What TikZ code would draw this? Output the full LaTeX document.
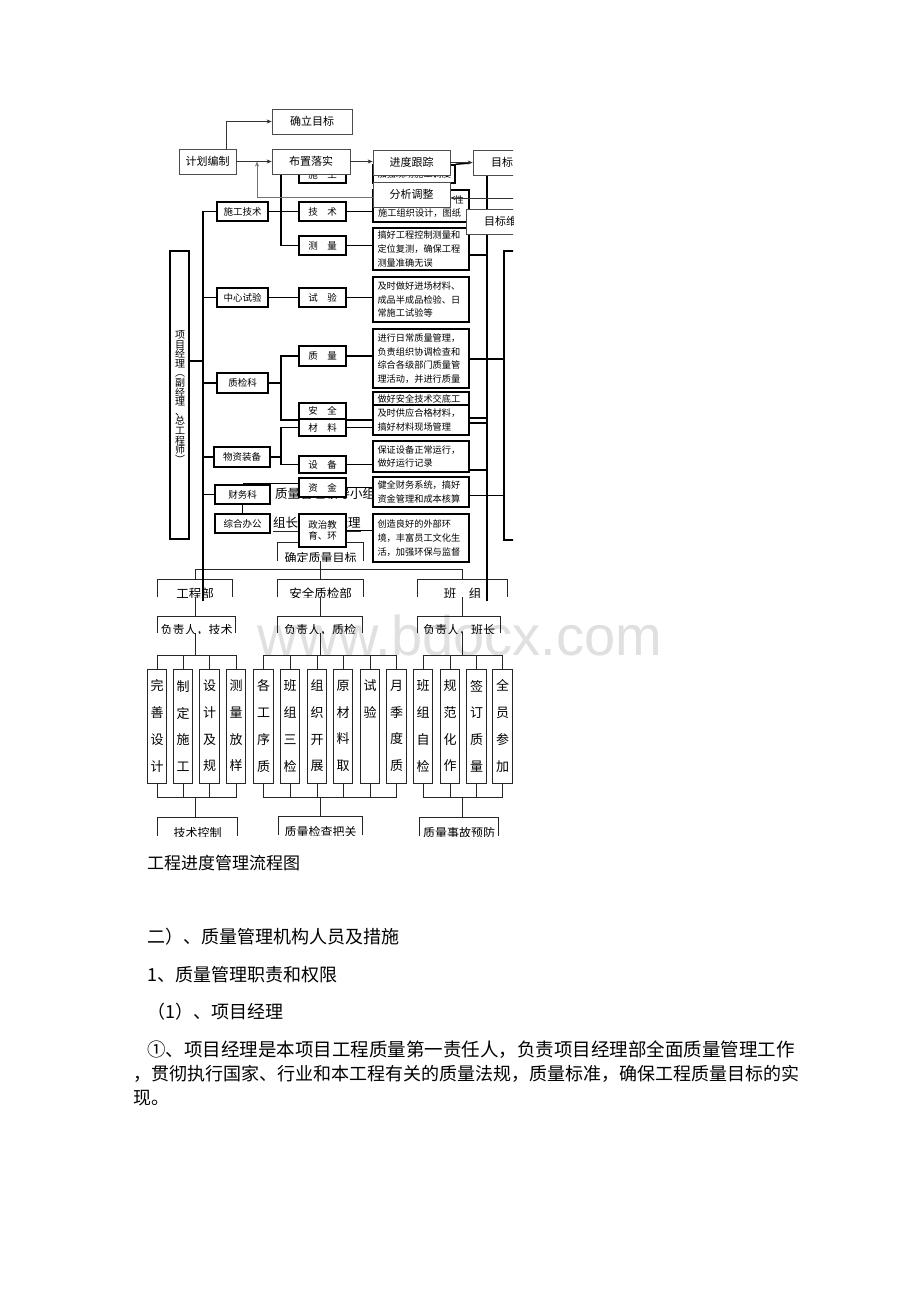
\documentclass[tikz,border=0pt]{standalone}
\usepackage{fontspec}
\setmainfont{Noto Sans CJK SC}
\newfontfamily\wmfont{Liberation Sans}
\usetikzlibrary{arrows.meta,calc}
\newcommand\ob[7][obox]{\node[#1,minimum width={(#5-#3)*1pt},minimum height={(#6-#4)*1pt}] (#2) at ({(#3+#5)/2},{(#4+#6)/2}) {#7};}
\newcommand\db[6]{\node[dbox,minimum width={(#4-#2)*1pt},minimum height={(#5-#3)*1pt},text width={(#4-#2-9)*1pt}] (#1) at ({(#2+#4)/2},{(#3+#5)/2}) {#6};}
\newcommand\qbox[7][qt]{%
  \node[qb,minimum width={(#5-#3)*1pt},minimum height={(#6-#4)*1pt}] (#2) at ({(#3+#5)/2},{(#4+#6)/2}) {};
  \begin{scope}\clip (#2.south west) rectangle (#2.north east);
    \node[#1] (#2t) at ([yshift=3.5pt]#2.south) {#7};\end{scope}
  \draw[ql] (#2.south west) |- (#2.north east) -- (#2.south east);}
\newcommand\cb[3]{\node[cbox] (#1) at (#2,726) {#3};}
\begin{document}
\begin{tikzpicture}[x=1pt,y=-1pt,
  obox/.style={draw,line width=1.5pt,fill=white,inner sep=0pt,align=center,font=\fontsize{9.5}{11}\selectfont},
  dbox/.style={draw,line width=1.5pt,fill=white,inner sep=0pt,align=left,font=\fontsize{9.2}{13.6}\selectfont},
  dt/.style={inner sep=0pt,font=\fontsize{9.2}{13.6}\selectfont},
  fbox/.style={draw=black!70,line width=0.7pt,fill=white,inner sep=0pt,font=\fontsize{11}{12}\selectfont},
  ft/.style={inner sep=0pt,font=\fontsize{11}{12}\selectfont},
  qb/.style={inner sep=0pt},
  qt/.style={inner sep=0pt,font=\fontsize{12.5}{13}\selectfont},
  ql/.style={line width=0.8pt,black!85},
  ol/.style={line width=1.5pt},
  cbox/.style={draw=black!85,line width=0.8pt,inner sep=0pt,minimum width=19.5pt,minimum height=114pt,align=center,font=\fontsize{13}{26.7}\selectfont},
  ar/.style={-{Stealth[length=5pt,width=4pt]},line width=0.6pt,black!80},
  body/.style={anchor=west,inner sep=0pt,font=\fontsize{18}{18}\selectfont}]
\fill[white] (0,0) rectangle (920,1302);
\useasboundingbox (0,0) rectangle (920,1302);

% watermark
\node[text=black!12,font=\wmfont\fontsize{56}{56}\selectfont] (wm) at (460,635) {www.bdocx.com};

\begin{scope}
\clip (0,0) rectangle (513,850);

% ---------- quality management chart (bottom layer)
\node[anchor=west,inner sep=0pt,font=\fontsize{12.5}{13}\selectfont] (qtitle) at (243,494) {（1）质量管理领导小组};
\node[anchor=west,inner sep=0pt,font=\fontsize{12.5}{13}\selectfont] (zuzhang) at (273,523) {组长：项目经理};
\draw[ql] ([yshift=-2pt]zuzhang.south west) -- ([yshift=-2pt]zuzhang.south east);

\coordinate (ytop) at (0,569);
\coordinate (yb1) at (0,655);
\coordinate (yb2) at (0,797);

\qbox[{inner sep=0pt,font=\fontsize{12}{13}\selectfont}]{qmb}{278}{543}{363}{561}{确定质量目标}
\qbox{gcb}{158}{580}{232}{597}{工程部}
\qbox{aqzj}{278}{580}{363}{597}{安全质检部}
\qbox{bz}{418}{580}{507}{597}{班\quad 组}
\qbox[{inner sep=0pt,font=\fontsize{12}{13}\selectfont}]{f1}{158}{617}{235}{633}{负责人，技术}
\qbox[{inner sep=0pt,font=\fontsize{12}{13}\selectfont}]{f2}{278}{617}{362}{633}{负责人，质检}
\qbox[{inner sep=0pt,font=\fontsize{12}{13}\selectfont}]{f3}{418}{617}{500}{633}{负责人，班长}
\qbox[{inner sep=0pt,font=\fontsize{12}{13}\selectfont}]{b1}{158}{818}{237}{836}{技术控制}
\qbox[{inner sep=0pt,font=\fontsize{12}{13}\selectfont}]{b2}{279}{817}{362}{835}{质量检查把关}
\qbox[{inner sep=0pt,font=\fontsize{12}{13}\selectfont}]{b3}{420}{818}{498}{836}{质量事故预防}

\cb{c11}{157}{完\\善\\设\\计}
\cb{c12}{183}{制\\定\\施\\工}
\cb{c13}{209.5}{设\\计\\及\\规}
\cb{c14}{236}{测\\量\\放\\样}
\cb{c21}{263.5}{各\\工\\序\\质}
\cb{c22}{290}{班\\组\\三\\检}
\cb{c23}{317}{组\\织\\开\\展}
\cb{c24}{343}{原\\材\\料\\取}
\cb{c25}{370}{试\\验\\\phantom{试}\\\phantom{验}}
\cb{c26}{396.5}{月\\季\\度\\质}
\cb{c31}{423}{班\\组\\自\\检}
\cb{c32}{450}{规\\范\\化\\作}
\cb{c33}{476.5}{签\\订\\质\\量}
\cb{c34}{502.5}{全\\员\\参\\加}

\draw[ql] (qmb.south) -- (qmb.south |- ytop);
\draw[ql] (gcb.north) -- (gcb.north |- ytop) -- (bz.north |- ytop) -- (bz.north);
\draw[ql] (aqzj.north) -- (aqzj.north |- ytop);
\draw[ql] (gcb.south) -- (gcb.south |- f1.north);
\draw[ql] (aqzj.south) -- (aqzj.south |- f2.north);
\draw[ql] (bz.south) -- (bz.south |- f3.north);
\draw[ql] (gcb.south |- f1.south) -- (gcb.south |- yb1);
\draw[ql] (aqzj.south |- f2.south) -- (aqzj.south |- yb1);
\draw[ql] (bz.south |- f3.south) -- (bz.south |- yb1);
% top bars
\draw[ql] (c11.north) -- (c11.north |- yb1) -- (c14.north |- yb1) -- (c14.north);
\draw[ql] (c12.north) -- (c12.north |- yb1);
\draw[ql] (c13.north) -- (c13.north |- yb1);
\draw[ql] (c21.north) -- (c21.north |- yb1) -- (c26.north |- yb1) -- (c26.north);
\foreach \c in {c22,c23,c24,c25} \draw[ql] (\c.north) -- (\c.north |- yb1);
\draw[ql] (c31.north) -- (c31.north |- yb1) -- (c34.north |- yb1) -- (c34.north);
\foreach \c in {c32,c33} \draw[ql] (\c.north) -- (\c.north |- yb1);
% bottom bars
\draw[ql] (c11.south) -- (c11.south |- yb2) -- (c14.south |- yb2) -- (c14.south);
\draw[ql] (c12.south) -- (c12.south |- yb2);
\draw[ql] (c13.south) -- (c13.south |- yb2);
\draw[ql] (c21.south) -- (c21.south |- yb2) -- (c26.south |- yb2) -- (c26.south);
\foreach \c in {c22,c23,c24,c25} \draw[ql] (\c.south) -- (\c.south |- yb2);
\draw[ql] (c31.south) -- (c31.south |- yb2) -- (c34.south |- yb2) -- (c34.south);
\foreach \c in {c32,c33} \draw[ql] (\c.south) -- (\c.south |- yb2);
\draw[ql] (gcb.south |- yb2) -- (gcb.south |- b1.north);
\draw[ql] (aqzj.south |- yb2) -- (aqzj.south |- b2.north);
\draw[ql] (bz.south |- yb2) -- (bz.south |- b3.north);

% ---------- organisation chart (middle layer)
\coordinate (ltend) at (203,601);
\coordinate (rttop) at (487,175);
\coordinate (rtend) at (487,601);
\coordinate (v1) at (281,0);
\coordinate (pmy) at (0,361);
\coordinate (y255) at (0,255);
\coordinate (y359) at (0,359);
\coordinate (y418) at (0,418);
\coordinate (y423) at (0,423);
\coordinate (y470) at (0,470);
\coordinate (y495) at (0,495);
\coordinate (c483) at (243,483);
\coordinate (c163) at (470,163);

\ob{pm}{170}{251}{189}{539}{}
\node[inner sep=0pt,align=center,font=\fontsize{10}{9.6}\selectfont] (pmt) at (180,397) {项\\目\\经\\理\\︵\\副\\经\\理\\、\\总\\工\\程\\师\\︶};
\ob{fr}{504}{251}{560}{540}{}

\ob{sgjs}{217}{202}{268}{221}{施工技术}
\ob{zxsy}{217}{288}{268}{307}{中心试验}
\ob{zjk}{217}{373}{268}{393}{质检科}
\ob{wzzb}{214}{447}{270}{467}{物资装备}
\ob{cwk}{215}{485}{270}{504}{财务科}
\ob{zhbg}{215}{514}{270}{533}{综合办公}

\draw[ol] (sgjs.west) -| (ltend);
\foreach \n in {zxsy,zjk,wzzb,cwk} \draw[ol] (\n.west) -- (\n.west -| ltend);
\draw[ol] (pm.east |- pmy) -- (ltend |- pmy);
\draw[line width=1pt] (cwk.south) -- (zhbg.north);

\ob{sg}{299}{166}{346}{183}{\raisebox{-3pt}{施\quad 工}}
\ob{js}{299}{202}{346}{221}{技\quad 术}
\ob{cl}{299}{236}{346}{255}{测\quad 量}
\ob{sy}{299}{288}{346}{307}{试\quad 验}
\ob{zl}{299}{346}{346}{366}{质\quad 量}
\ob{aq}{299}{403}{346}{419}{安\quad 全}
\ob{clz}{299}{419}{346}{436}{材\quad 料}
\ob{sb}{299}{456}{346}{473}{设\quad 备}
\ob{zj}{299}{478}{346}{497}{资\quad 金}
\ob{zz}{299}{514}{346}{547}{政治教\\育、环}

\db{d0}{373}{165}{455}{183}{\raisebox{-3pt}{加强现场施工调度}}
\db{d1}{373}{190}{469}{222}{}
\node[dt,anchor=west] (d1a) at (378,213) {施工组织设计，图纸};
\node[dt,anchor=east] (d1b) at (464,200) {性};
\db{d2}{373}{228}{469}{270}{搞好工程控制测量和\\定位复测，确保工程\\测量准确无误}
\db{d3}{373}{277}{469}{322}{及时做好进场材料、\\成品半成品检验、日\\常施工试验等}
\db{d4}{373}{329}{469}{388}{进行日常质量管理，\\负责组织协调检查和\\综合各级部门质量管\\理活动，并进行质量}
\db{d5}{373}{392}{469}{405}{做好安全技术交底工}
\db{d6}{373}{405}{469}{435}{及时供应合格材料，\\搞好材料现场管理}
\db{d7}{373}{441}{469}{472}{保证设备正常运行，\\做好运行记录}
\db{d8}{373}{477}{469}{507}{健全财务系统，搞好\\资金管理和成本核算}
\db{d9}{373}{514}{469}{562}{创造良好的外部环\\境，丰富员工文化生\\活，加强环保与监督}

% column connections
\draw[ol] (sgjs.east) -- (js.west);
\draw[ol] (sg.west) -| (v1 |- cl.west) -- (cl.west);
\draw[ol] (zxsy.east) -- (sy.west);
\draw[ol] (zjk.east) -- (v1 |- zjk.east);
\draw[ol] (zl.west) -| (v1 |- aq.south) -- (aq.south west);
\draw[ol] (wzzb.east) -- (v1 |- wzzb.east);
\draw[ol] (clz.west) -| (v1 |- sb.west) -- (sb.west);
\draw[line width=1pt] (c483) -- (c483 -| zj.west);
\draw[ol] (js.east) -- (js.east -| d1.west);
\draw[ol] (cl.east) -- (cl.east -| d2.west);
\draw[ol] (sy.east) -- (sy.east -| d3.west);
\draw[ol] (zl.east) -- (zl.east -| d4.west);
\draw[ol] (aq.south east) -- (aq.south east -| d6.west);
\draw[ol] (clz.east) -- (clz.east -| d6.west);
\draw[ol] (sb.east) -- (sb.east -| d7.west);
\draw[ol] (zj.east) -- (zj.east -| d8.west);
\draw[ol] (zz.east) -- (zz.east -| d9.west);
% right trunk
\draw[ol] (rttop) -- (rtend);
\draw[ol] (d2.east |- y255) -- (rtend |- y255);
\draw[ol] (d4.east |- y359) -- (fr.west |- y359);
\draw[ol] (d6.east |- y418) -- (rtend |- y418);
\draw[ol] (d6.east |- y423) -- (rtend |- y423);
\draw[ol] (d7.east |- y470) -- (rtend |- y470);
\draw[line width=1pt] (d8.east |- y495) -- (fr.west |- y495);
\draw[ol] (d0.north east) -- (c163);

% ---------- progress flow chart (top layer)
\coordinate (c226) at (226,0);
\coordinate (c257) at (257,197);
\coordinate (c515) at (520,198);
\ob[fbox]{qlmb}{272}{109}{352}{134}{确立目标}
\ob[fbox]{jhbz}{179}{149}{236}{174}{计划编制}
\ob[fbox]{bzls}{272}{149}{350}{174}{布置落实}
\ob[fbox]{jdgz}{373}{150}{450}{175}{进度跟踪}
\ob[fbox]{fxtz}{373}{182}{450}{207}{分析调整}
\ob[fbox]{mb}{473}{150}{560}{175}{}
\node[ft,anchor=west] (mbt) at (491,162.5) {目标};
\ob[fbox]{mbw}{466}{209}{560}{234}{}
\node[ft,anchor=west] (mbwt) at (484,221.5) {目标维};

\draw[ar] (jhbz.north -| c226) |- (qlmb.west);
\draw[ar] (jhbz.east) -- (bzls.west);
\draw[ar] (bzls.east) -- (bzls.east -| jdgz.west);
\draw[ar] (jdgz.east) -- (jdgz.east -| mb.west);
\draw[ar,black!55] (fxtz.west |- c257) -| (c257 |- jhbz.east);
\draw[ar] (c515) -- (c515 -| fxtz.east);
\end{scope}

% ---------- body text
\node[body,font=\fontsize{17}{17}\selectfont] (cap) at (147,863) {工程进度管理流程图};
\node[body] (h2) at (147,937) {二）、质量管理机构人员及措施};
\node[body] (h3) at (147,975) {1、质量管理职责和权限};
\node[body] (h4) at (147,1012) {（1）、项目经理};
\node[body,font=\fontsize{18.5}{18.5}\selectfont] (p1) at (147,1050) {①、项目经理是本项目工程质量第一责任人，负责项目经理部全面质量管理工作};
\node[body] (p2) at (133,1074) {，贯彻执行国家、行业和本工程有关的质量法规，质量标准，确保工程质量目标的实};
\node[body] (p3) at (133,1098) {现。};
\end{tikzpicture}
\end{document}
